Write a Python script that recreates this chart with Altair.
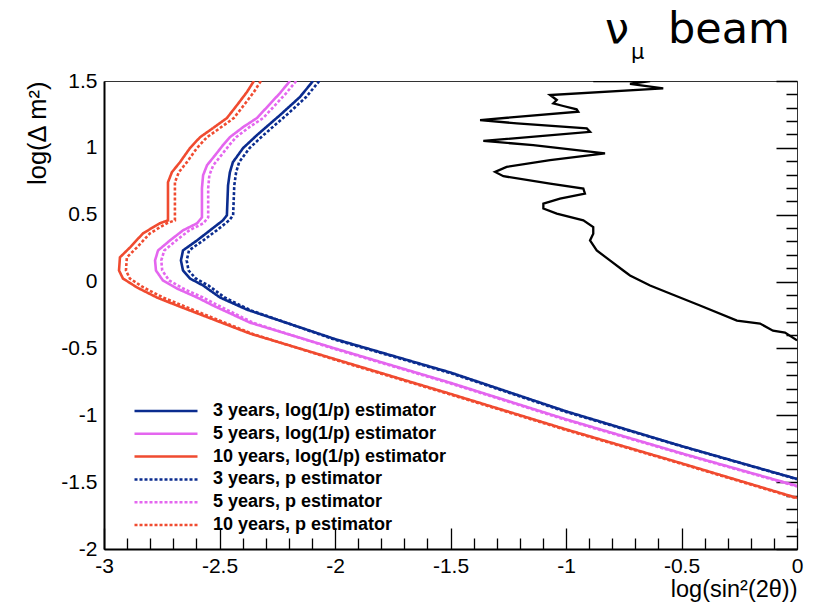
import altair as alt
import pandas as pd

# ---------------- data ----------------
labels = [
    "3 years, log(1/p) estimator",
    "5 years, log(1/p) estimator",
    "10 years, log(1/p) estimator",
    "3 years, p estimator",
    "5 years, p estimator",
    "10 years, p estimator",
]
colors = ["#0b2c8f", "#e466ef", "#f04b30", "#0b2c8f", "#e466ef", "#f04b30"]
dashes = [[1, 0], [1, 0], [1, 0], [3, 2], [3, 2], [3, 2]]

blue_log_x = [-2.095, -2.152, -2.238, -2.338, -2.398, -2.442, -2.455, -2.463, -2.468, -2.485, -2.541,
              -2.597, -2.658, -2.667, -2.658, -2.628, -2.571, -2.498, -2.381, -2.0, -1.5, -1.0, -0.5, 0.0]
blue_log_y = [1.50, 1.38, 1.245, 1.095, 0.998, 0.893, 0.818, 0.72, 0.496, 0.458, 0.383,
              0.308, 0.233, 0.158, 0.083, 0.023, -0.029, -0.119, -0.21, -0.43, -0.68, -0.97, -1.23, -1.476]

pink_log_x = [-2.195, -2.238, -2.294, -2.338, -2.398, -2.455, -2.485, -2.519, -2.554, -2.571, -2.576, -2.576,
              -2.597, -2.658, -2.714, -2.766, -2.779, -2.775, -2.745, -2.684, -2.597, -2.528, -2.368,
              -2.0, -1.5, -1.0, -0.5, 0.0]
pink_log_y = [1.50, 1.41, 1.305, 1.223, 1.155, 1.08, 1.02, 0.945, 0.87, 0.795, 0.698, 0.48,
              0.436, 0.383, 0.308, 0.233, 0.158, 0.083, 0.008, -0.052, -0.119, -0.179, -0.307,
              -0.50, -0.757, -1.03, -1.284, -1.528]

red_log_x = [-2.351, -2.381, -2.424, -2.468, -2.528, -2.584, -2.628, -2.671, -2.706, -2.723, -2.723, -2.723,
             -2.758, -2.831, -2.887, -2.931, -2.935, -2.918, -2.857, -2.771, -2.684, -2.368,
             -2.0, -1.5, -1.0, -0.5, 0.0]
red_log_y = [1.50, 1.418, 1.32, 1.223, 1.148, 1.08, 0.998, 0.893, 0.818, 0.743, 0.645, 0.458,
             0.436, 0.361, 0.256, 0.181, 0.083, 0.023, -0.044, -0.119, -0.179, -0.389,
             -0.58, -0.84, -1.105, -1.359, -1.618]

blue_p_x = [-2.068, -2.125, -2.21, -2.31, -2.37, -2.415, -2.428, -2.436, -2.441, -2.458, -2.512,
            -2.57, -2.632, -2.642, -2.634, -2.603, -2.548, -2.478, -2.365, -2.0, -1.5, -1.0, -0.5, 0.0]
blue_p_y = [1.50, 1.38, 1.245, 1.095, 0.998, 0.893, 0.818, 0.72, 0.496, 0.458, 0.383,
            0.308, 0.233, 0.158, 0.083, 0.023, -0.029, -0.119, -0.215, -0.435, -0.685, -0.975, -1.232, -1.478]

pink_p_x = [-2.168, -2.211, -2.267, -2.311, -2.371, -2.428, -2.458, -2.492, -2.527, -2.544, -2.549, -2.549,
            -2.570, -2.631, -2.687, -2.739, -2.752, -2.748, -2.718, -2.657, -2.572, -2.505, -2.352,
            -2.0, -1.5, -1.0, -0.5, 0.0]
pink_p_y = [1.50, 1.41, 1.305, 1.223, 1.155, 1.08, 1.02, 0.945, 0.87, 0.795, 0.698, 0.48,
            0.436, 0.383, 0.308, 0.233, 0.158, 0.083, 0.008, -0.052, -0.119, -0.179, -0.31,
            -0.505, -0.762, -1.035, -1.288, -1.532]

red_p_x = [-2.321, -2.351, -2.394, -2.438, -2.498, -2.554, -2.598, -2.641, -2.676, -2.693, -2.693, -2.693,
           -2.728, -2.801, -2.857, -2.901, -2.905, -2.888, -2.829, -2.745, -2.660, -2.355,
           -2.0, -1.5, -1.0, -0.5, 0.0]
red_p_y = [1.50, 1.418, 1.32, 1.223, 1.148, 1.08, 0.998, 0.893, 0.818, 0.743, 0.645, 0.458,
           0.436, 0.361, 0.256, 0.181, 0.083, 0.023, -0.044, -0.119, -0.179, -0.392,
           -0.585, -0.845, -1.11, -1.363, -1.622]

black_x = [-0.882, -0.636, -0.723, -0.579, -1.069, -1.040, -1.055, -1.012, -0.954, -0.947, -1.372,
           -1.213, -0.910, -0.896, -1.358, -1.142, -0.831, -1.069, -1.257, -1.307, -1.271, -1.069,
           -0.925, -0.918, -1.026, -1.098, -1.098, -1.040, -0.925, -0.882, -0.882, -0.896, -0.867,
           -0.810, -0.752, -0.723, -0.636, -0.550, -0.420, -0.260, -0.160, -0.104, -0.052, 0.0]
black_y = [1.50, 1.50, 1.478, 1.445, 1.395, 1.358, 1.333, 1.313, 1.288, 1.270, 1.208,
           1.183, 1.145, 1.120, 1.052, 1.020, 0.958, 0.908, 0.858, 0.820, 0.788, 0.733,
           0.696, 0.658, 0.621, 0.583, 0.546, 0.508, 0.458, 0.408, 0.358, 0.308, 0.233,
           0.158, 0.083, 0.046, -0.029, -0.089, -0.179, -0.292, -0.314, -0.367, -0.382, -0.44]

tick_x = [round(-3 + 0.1 * k, 1) for k in range(31)]
tick_y = [round(-2 + 0.1 * k, 1) for k in range(36)]

title_parts = ["\u03bd", "\u03bc", "beam"]
x_title = "log(sin\u00b2(2\u03b8))"
y_title = "log(\u0394 m\u00b2)"

# ---------------- tables ----------------
series_x = [blue_log_x, pink_log_x, red_log_x, blue_p_x, pink_p_x, red_p_x]
series_y = [blue_log_y, pink_log_y, red_log_y, blue_p_y, pink_p_y, red_p_y]
rows = []
for lab, xs, ys in zip(labels, series_x, series_y):
    for i, (a, b) in enumerate(zip(xs, ys)):
        rows.append({"series": lab, "i": i, "x": a, "y": b})
df = pd.DataFrame(rows)
black = pd.DataFrame({"i": list(range(len(black_x))), "x": black_x, "y": black_y})

W, H = 693, 468
MAJ, MIN = 21, 11
FONT = "Liberation Sans"
xscale = alt.Scale(domain=[-3, 0], nice=False, zero=False)
yscale = alt.Scale(domain=[-2, 1.5], nice=False, zero=False)

MAJOR = "abs(datum.value * 2 - round(datum.value * 2)) < 0.001"
LABEL = "(" + MAJOR + ") ? (datum.value + '') : ''"
# grid lines cut down by a dash pattern to a short piece at the axis end: inward ticks
XDASH = {"condition": {"test": MAJOR, "value": [0, H - MAJ, MAJ, 3000]}, "value": [0, H - MIN, MIN, 3000]}
YDASH = {"condition": {"test": MAJOR, "value": [0, W - MAJ, MAJ, 3000]}, "value": [0, W - MIN, MIN, 3000]}

leg = alt.Legend(
    title=None, orient="none", legendX=29, legendY=318, padding=0,
    symbolType="M-1,0H5", symbolSize=441, symbolStrokeWidth=2.5,
    labelFont=FONT, labelFontWeight="bold", labelFontSize=18, labelColor="black",
    labelOffset=56, rowPadding=1.8, labelLimit=400,
)

xaxis = alt.Axis(
    orient="bottom", values=tick_x, ticks=False,
    grid=True, gridColor="black", gridOpacity=1, gridWidth=1.3, gridDash=XDASH,
    domain=True, domainColor="black", domainWidth=2,
    labelExpr=LABEL, labelFont=FONT, labelFontSize=21, labelColor="black",
    labelPadding=6, labelOverlap=False, labelFlush=False, labelBound=False,
    title=x_title, titleAnchor="end", titleFont=FONT, titleFontSize=23.5,
    titleFontWeight="normal", titleColor="black", titlePadding=1)
yaxis = alt.Axis(
    orient="left", values=tick_y, ticks=False,
    grid=True, gridColor="black", gridOpacity=1, gridWidth=1.3, gridDash=YDASH,
    domain=True, domainColor="black", domainWidth=2,
    labelExpr=LABEL, labelFont=FONT, labelFontSize=21, labelColor="black",
    labelPadding=7, labelOverlap=False, labelFlush=False, labelBound=False,
    title=y_title, titleAnchor="end", titleFont=FONT, titleFontSize=25.5,
    titleFontWeight="normal", titleColor="black", titlePadding=10)

lines = alt.Chart(df).mark_line(clip=True, strokeWidth=2.6).encode(
    x=alt.X("x:Q", scale=xscale, axis=xaxis),
    y=alt.Y("y:Q", scale=yscale, axis=yaxis),
    color=alt.Color("series:N", scale=alt.Scale(domain=labels, range=colors), legend=leg),
    strokeDash=alt.StrokeDash("series:N", scale=alt.Scale(domain=labels, range=dashes), legend=leg),
    order=alt.Order("i:Q"),
)

curve = alt.Chart(black).mark_line(clip=True, color="black", strokeWidth=2.3).encode(
    x=alt.X("x:Q", scale=xscale, axis=xaxis),
    y=alt.Y("y:Q", scale=yscale, axis=yaxis),
    order=alt.Order("i:Q"),
)

TFONT = "DejaVu Sans"
t_nu = alt.Chart(pd.DataFrame({"t": [title_parts[0]]})).mark_text(
    font=TFONT, fontSize=43, align="left", baseline="alphabetic", color="black"
).encode(text="t:N", x=alt.value(501), y=alt.value(-38))
t_mu = alt.Chart(pd.DataFrame({"t": [title_parts[1]]})).mark_text(
    font=TFONT, fontSize=21, align="left", baseline="alphabetic", color="black"
).encode(text="t:N", x=alt.value(527), y=alt.value(-22))
t_beam = alt.Chart(pd.DataFrame({"t": [title_parts[2]]})).mark_text(
    font=TFONT, fontSize=43, align="left", baseline="alphabetic", color="black"
).encode(text="t:N", x=alt.value(564), y=alt.value(-38))

chart = alt.layer(
    lines, curve, t_nu, t_mu, t_beam,
).properties(
    width=W, height=H,
    padding={"left": 104, "top": 81, "right": 21, "bottom": 65},
    autosize=alt.AutoSizeParams(type="none"),
    background="white",
).configure_view(stroke="#333333", strokeWidth=1)

chart.save("out.html", embed_options={"renderer": "svg", "actions": False})
